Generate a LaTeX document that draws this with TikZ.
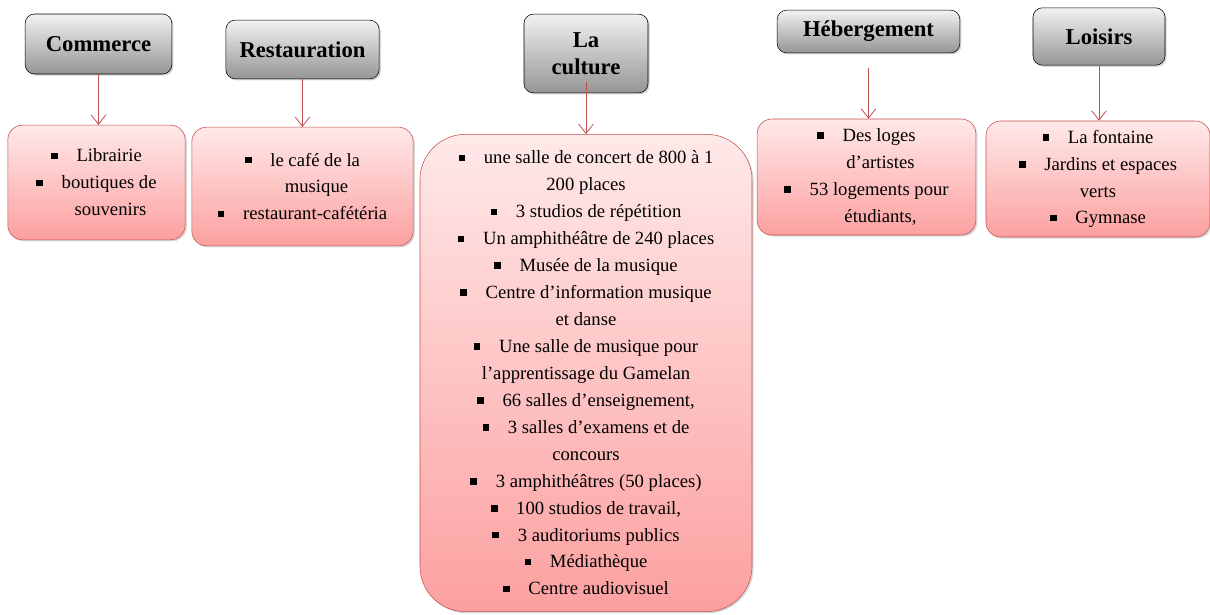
\documentclass[tikz,border=0pt]{standalone}
\usepackage{fontspec}
\setmainfont{Liberation Serif}
\usetikzlibrary{arrows.meta,shadows}

\definecolor{accentred}{HTML}{C0504D}
\definecolor{pinktop}{HTML}{FFE9E9}
\definecolor{pinkbot}{HTML}{FCA0A0}
\definecolor{graytop}{HTML}{F2F2F2}
\definecolor{graybot}{HTML}{959595}

% small square bullet
\newcommand{\itm}{\rule[0.3ex]{5pt}{5pt}\hspace{1em}}

\begin{document}
\begin{tikzpicture}[
  x=0.75pt, y=-0.75pt,
  font=\fontsize{14}{20.2}\selectfont,
  header/.style={
    draw=black,
    rounded corners=7pt,
    top color=graytop,
    bottom color=graybot,
    align=center,
    inner sep=2pt,
    font=\fontsize{17}{20}\selectfont\bfseries,
    drop shadow={shadow xshift=1.2pt,shadow yshift=-1.2pt,opacity=0.35}
  },
  listbox/.style={
    draw=accentred,
    rounded corners=11pt,
    top color=pinktop,
    bottom color=pinkbot,
    align=center,
    inner sep=0pt,
    drop shadow={shadow xshift=1.2pt,shadow yshift=-1.2pt,opacity=0.3}
  },
  link/.style={-{Straight Barb[length=7pt,width=11pt]},draw=accentred,semithick}
]
  \useasboundingbox (0,0) rectangle (1210,614);

  % headers
  \node[header,minimum width=110pt,minimum height=45pt] (commerce) at (98.5,44) {Commerce};
  \node[header,minimum width=115pt,minimum height=44pt] (resto) at (302.5,49.5) {Restauration};
  \node[header,minimum width=93pt,minimum height=59pt] (culture) at (586,53.5) {La\\culture};
  \node[header,minimum width=137pt,minimum height=32pt] (heberg) at (868.5,31.5) {Hébergement};
  \node[header,minimum width=99pt,minimum height=43pt] (loisirs) at (1099,36.5) {Loisirs};

  % lists
  \node[listbox,minimum width=133pt,minimum height=86pt] (commercelist) at (96.5,182.5) {
    \itm Librairie\\
    \itm boutiques de\\
    \hspace{1.5em}souvenirs
  };
  \node[listbox,minimum width=166pt,minimum height=89pt] (restolist) at (302.5,186.5) {
    \itm le café de la\\
    \hspace{1.5em}musique\\
    \itm restaurant-cafétéria
  };
  \node[listbox,rounded corners=34pt,minimum width=249pt,minimum height=358pt] (culturelist) at (586,373) {
    \itm une salle de concert de 800 à 1\\
    200 places\\
    \itm 3 studios de répétition\\
    \itm Un amphithéâtre de 240 places\\
    \itm Musée de la musique\\
    \itm Centre d’information musique\\
    et danse\\
    \itm Une salle de musique pour\\
    l’apprentissage du Gamelan\\
    \itm 66 salles d’enseignement,\\
    \itm 3 salles d’examens et de\\
    concours\\
    \itm 3 amphithéâtres (50 places)\\
    \itm 100 studios de travail,\\
    \itm 3 auditoriums publics\\
    \itm Médiathèque\\
    \itm Centre audiovisuel
  };
  \node[listbox,minimum width=164pt,minimum height=87pt] (herberglist) at (866.5,177) {
    \itm Des loges\\
    \hspace{1.5em}d’artistes\\
    \itm 53 logements pour\\
    \hspace{1.5em}étudiants,
  };
  \node[listbox,minimum width=168pt,minimum height=87pt] (loisirslist) at (1098,179) {
    \itm La fontaine\\
    \itm Jardins et espaces\\
    verts\\
    \itm Gymnase
  };

  \draw[link] (commerce.south) -- (commerce.south |- commercelist.north);
  \draw[link] (resto.south) -- (resto.south |- restolist.north);
  \draw[link] ([yshift=8pt]culture.south) -- (culture.south |- culturelist.north);
  \draw[link] ([yshift=-11pt]heberg.south) -- (heberg.south |- herberglist.north);
  \draw[link] (loisirs.south) -- (loisirs.south |- loisirslist.north);
\end{tikzpicture}
\end{document}
